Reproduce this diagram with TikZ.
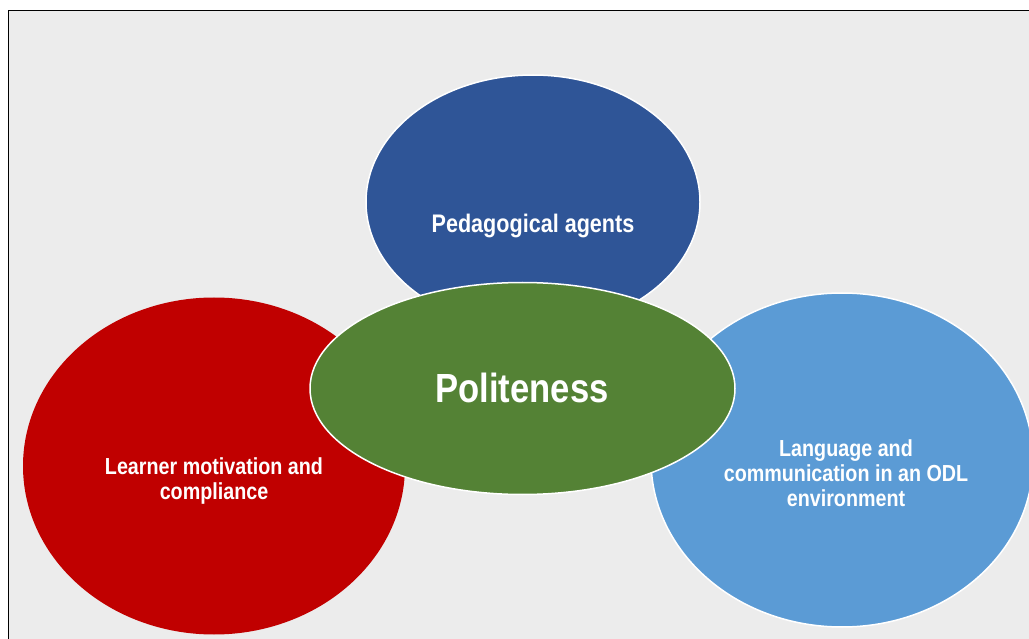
\documentclass[tikz,border=0pt]{standalone}
\usepackage{fontspec}
\setmainfont{Liberation Sans}[FakeStretch=0.85]
\usetikzlibrary{shapes.geometric}
\definecolor{bg}{HTML}{ECECEC}
\definecolor{darkblue}{HTML}{2F5597}
\definecolor{redc}{HTML}{C00000}
\definecolor{lightblue}{HTML}{5B9BD5}
\definecolor{greenc}{HTML}{548235}
\begin{document}
\begin{tikzpicture}[x=1pt,y=-1pt,
  blob/.style={ellipse, inner sep=0pt, draw=white, line width=1.5pt},
  lbl/.style={text=white, font=\bfseries\fontsize{23.2}{25}\selectfont, align=center, inner sep=0pt}]
\useasboundingbox (0,0) rectangle (1029,639);
\fill[bg] (8.5,10.5) rectangle (1029,639);
\draw[line width=1.8pt] (8.5,639) -- (8.5,10.5) -- (1029,10.5);
\node[blob, draw=none, fill=redc, minimum width=382pt, minimum height=337pt] (learner) at (214,466) {};
\node[blob, fill=lightblue, minimum width=382pt, minimum height=334pt] (language) at (842,460) {};
\node[blob, fill=darkblue, minimum width=334pt, minimum height=254pt] (agents) at (533,202) {};
\node[blob, fill=greenc, minimum width=425pt, minimum height=212pt] (polite) at (522.5,388.5) {};
\node[lbl, font=\bfseries\fontsize{25.4}{28}\selectfont] (agentsT) at (533,226) {Pedagogical agents};
\node[lbl] (learnerT) at (214,481) {Learner motivation and\\compliance};
\node[lbl] (languageT) at (846,473) {Language and\\communication in an ODL\\environment};
\node[lbl, font=\bfseries\fontsize{40.7}{45}\selectfont] (politeT) at (522,388) {Politeness};
\end{tikzpicture}
\end{document}
